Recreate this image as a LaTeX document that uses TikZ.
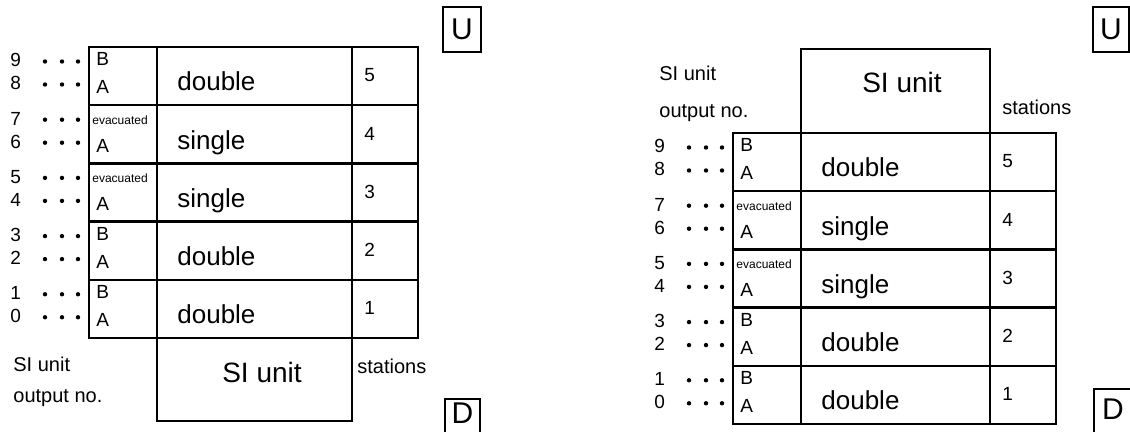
\documentclass[tikz,border=0pt]{standalone}
\usepackage{fontspec}
\setmainfont{Liberation Sans}
\usetikzlibrary{positioning,calc}

\begin{document}
\begin{tikzpicture}[
  x=0.5pt,y=-0.5pt,
  cellbox/.style={draw,line width=1.2pt,rectangle,anchor=north west,inner sep=0pt,outer sep=0pt,minimum height=29.1pt},
  txt/.style={inner sep=0pt,anchor=base west},
  kindtxt/.style={txt,font=\fontsize{13}{15}\selectfont},
  numtxt/.style={txt,font=\fontsize{9.5}{11}\selectfont},
  lbltxt/.style={txt,font=\fontsize{10}{12}\selectfont},
  bigtxt/.style={inner sep=0pt,anchor=base,font=\fontsize{14}{16}\selectfont},
  upB/.style={numtxt,xshift=3.5pt},
  upE/.style={txt,font=\fontsize{6}{7}\selectfont,xshift=1.5pt},
  dirbox/.style={draw,line width=1.2pt,inner sep=0pt,font=\fontsize{15}{15}\selectfont}
]
\useasboundingbox (0,0) rectangle (1130,432);
\clip (0,0) rectangle (1130,432);
% station rows, both panels
\foreach \p/\tx/\ty/\wb in {L/89/47/195,R/733/133/189}{
  \foreach \r/\st/\kind/\ups/\up/\hi/\lo in {0/5/double/upB/B/9/8,1/4/single/upE/evacuated/7/6,2/3/single/upE/evacuated/5/4,3/2/double/upB/B/3/2,4/1/double/upB/B/1/0}{
    \node[cellbox,minimum width=34pt] (\p a\st) at (\tx,{\ty+58.2*\r}) {};
    \node[cellbox,minimum width=\wb*0.5pt] (\p k\st) at (\p a\st.north east) {};
    \node[cellbox,minimum width=33pt] (\p s\st) at (\p k\st.north east) {};
    \node[\ups] (\p u\st) at ($(\p a\st.north west)+(0,19)$) {\up};
    \node[numtxt] (\p l\st) at ($(\p a\st.north west)+(7,47)$) {A};
    \node[kindtxt] (\p t\st) at ($(\p k\st.north west)+(20,44)$) {\kind};
    \node[numtxt] (\p n\st) at ($(\p s\st.north west)+(12,35)$) {\st};
    % output numbers and dots
    \node[numtxt] (\p h\st) at ($(\p a\st.north west)+(-79,20)$) {\hi};
    \node[numtxt] (\p o\st) at ($(\p a\st.north west)+(-79,43)$) {\lo};
    \foreach \dx in {-44,-27,-11}{
      \fill ($(\p a\st.north west)+(\dx,14.5)$) circle (2.2);
      \fill ($(\p a\st.north west)+(\dx,37.5)$) circle (2.2);
    }
  }
}
% left panel: SI unit below
\node[cellbox,minimum width=97.5pt,minimum height=41.5pt] (Lsi) at (La1.south east) {};
\node[bigtxt] (Lsit) at ($(Lsi.north west)+(105,45)$) {SI unit};
\node[lbltxt] (Lsilbl) at (13,372) {SI unit};
\node[lbltxt] (Loutlbl) at (13,403) {output no.};
\node[lbltxt] (Lstlbl) at (357,374) {stations};
\node[dirbox,minimum width=19pt,minimum height=22.5pt] (LU) at (462,29.5) {U};
\node[dirbox,minimum width=17.5pt,anchor=base,text height=12.5pt,text depth=10pt] (LD) at (462.5,424) {D};
% right panel: SI unit above
\node[cellbox,anchor=south west,minimum width=94.5pt,minimum height=42pt] (Rsi) at (Rk5.north west) {};
\node[bigtxt] (Rsit) at ($(Rsi.north west)+(101,44)$) {SI unit};
\node[lbltxt] (Rsilbl) at (659,81) {SI unit};
\node[lbltxt] (Routlbl) at (659,118) {output no.};
\node[lbltxt] (Rstlbl) at (1002,115) {stations};
\node[dirbox,minimum width=18pt,minimum height=22.5pt] (RU) at (1111,29.5) {U};
\node[dirbox,minimum width=19pt,anchor=base,text height=15.5pt,text depth=10pt] (RD) at (1113,420) {D};
\end{tikzpicture}
\end{document}
